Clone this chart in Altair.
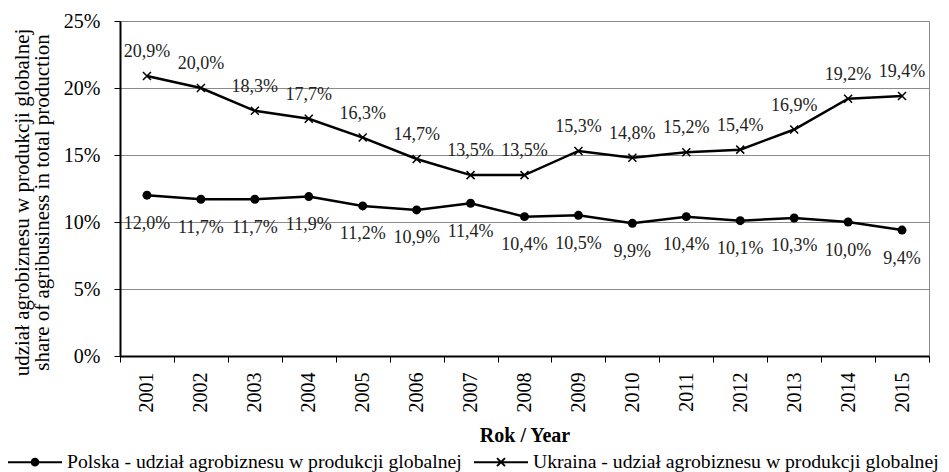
import altair as alt
import pandas as pd

years = [str(y) for y in range(2001, 2016)]
polska = [12.0, 11.7, 11.7, 11.9, 11.2, 10.9, 11.4, 10.4, 10.5, 9.9, 10.4, 10.1, 10.3, 10.0, 9.4]
ukraina = [20.9, 20.0, 18.3, 17.7, 16.3, 14.7, 13.5, 13.5, 15.3, 14.8, 15.2, 15.4, 16.9, 19.2, 19.4]
series_names = [
    "Polska - udział agrobiznesu w produkcji globalnej",
    "Ukraina - udział agrobiznesu w produkcji globalnej",
]
y_ticks = [0, 5, 10, 15, 20, 25]
y_title = ["udział agrobiznesu w produkcji globalnej", "share of agribusiness in total production"]
x_title = "Rok / Year"

rows = []
for name, vals in zip(series_names, [polska, ukraina]):
    for yr, v in zip(years, vals):
        rows.append({"year": yr, "value": v, "series": name,
                     "label": f"{v:.1f}".replace(".", ",") + "%"})
df = pd.DataFrame(rows)

FONT = "Liberation Serif"

x_enc = alt.X(
    "year:N",
    sort=years,
    scale=alt.Scale(type="band", paddingInner=0, paddingOuter=0),
    axis=alt.Axis(
        title=x_title, titleFont=FONT, titleFontSize=20, titleFontWeight="bold",
        titleColor="black", titleY=85, titleBaseline="alphabetic",
        labelAngle=270, labelFont=FONT, labelFontSize=20, labelColor="black",
        labelPadding=10, tickSize=6, tickColor="black", tickWidth=1,
        tickBand="extent", domainColor="black", domainWidth=2, grid=False,
    ),
)
y_enc = alt.Y(
    "value:Q",
    scale=alt.Scale(domain=[0, 25], nice=False),
    axis=alt.Axis(
        values=y_ticks, labelExpr="datum.value + '%'",
        title=y_title, titleFont=FONT, titleFontSize=21, titleFontWeight="normal",
        titleColor="black", titleLineHeight=20, titleX=-92, titleY=181,
        titleBaseline="alphabetic", titleAlign="center", titleAngle=270,
        labelFont=FONT, labelFontSize=20, labelColor="black", labelPadding=14,
        tickSize=6, tickColor="black", domainColor="black", domainWidth=2,
        grid=True, gridColor="#8a8a8a", gridWidth=1,
    ),
)

base = alt.Chart(df).encode(x=x_enc, y=y_enc)

lines = base.mark_line(color="black", strokeWidth=2.5).encode(detail="series:N")

pl = base.transform_filter(alt.datum.series == series_names[0])
ua = base.transform_filter(alt.datum.series == series_names[1])

pl_pts = pl.mark_point(shape="circle", filled=True, color="black", size=80, opacity=1)
ua_pts = ua.mark_point(shape="M-1,-1L1,1M-1,1L1,-1", filled=False, color="black",
                       size=64, strokeWidth=1.5, opacity=1)

pl_txt = pl.mark_text(font=FONT, fontSize=18, color="#222", dy=28.5, baseline="middle").encode(text="label:N")
ua_txt = ua.mark_text(font=FONT, fontSize=18, color="#222", dy=-24, baseline="middle").encode(text="label:N")

legend_paths = [
    "M-2.7,0L2.7,0M-0.33,0A0.33,0.33 0 1,0 0.33,0A0.33,0.33 0 1,0 -0.33,0Z",
    "M-2.7,0L2.7,0M-0.4,-0.4L0.4,0.4M-0.4,0.4L0.4,-0.4",
]
legend_layer = base.transform_filter("false").mark_point(
    opacity=1, strokeWidth=2
).encode(
    fill=alt.value("black"),
    stroke=alt.value("black"),
    shape=alt.Shape(
        "series:N",
        scale=alt.Scale(domain=series_names, range=legend_paths),
        legend=alt.Legend(
            title=None, orient="none", legendX=-96, legendY=430,
            direction="horizontal", labelFont=FONT, labelFontSize=19.7,
            labelColor="black", labelLimit=1000, symbolSize=400,
            symbolStrokeWidth=2, symbolOpacity=1, labelOffset=21, columnPadding=8,
        ),
    ),
)

chart = alt.layer(lines, pl_pts, ua_pts, pl_txt, ua_txt, legend_layer).properties(
    width=809, height=335,
    autosize=alt.AutoSizeParams(type="none"),
    padding={"left": 112, "top": 13, "right": 12, "bottom": 116},
).configure_view(stroke="#8a8a8a", strokeWidth=1)

chart.save("out.html", embed_options={"renderer": "svg", "actions": False})
